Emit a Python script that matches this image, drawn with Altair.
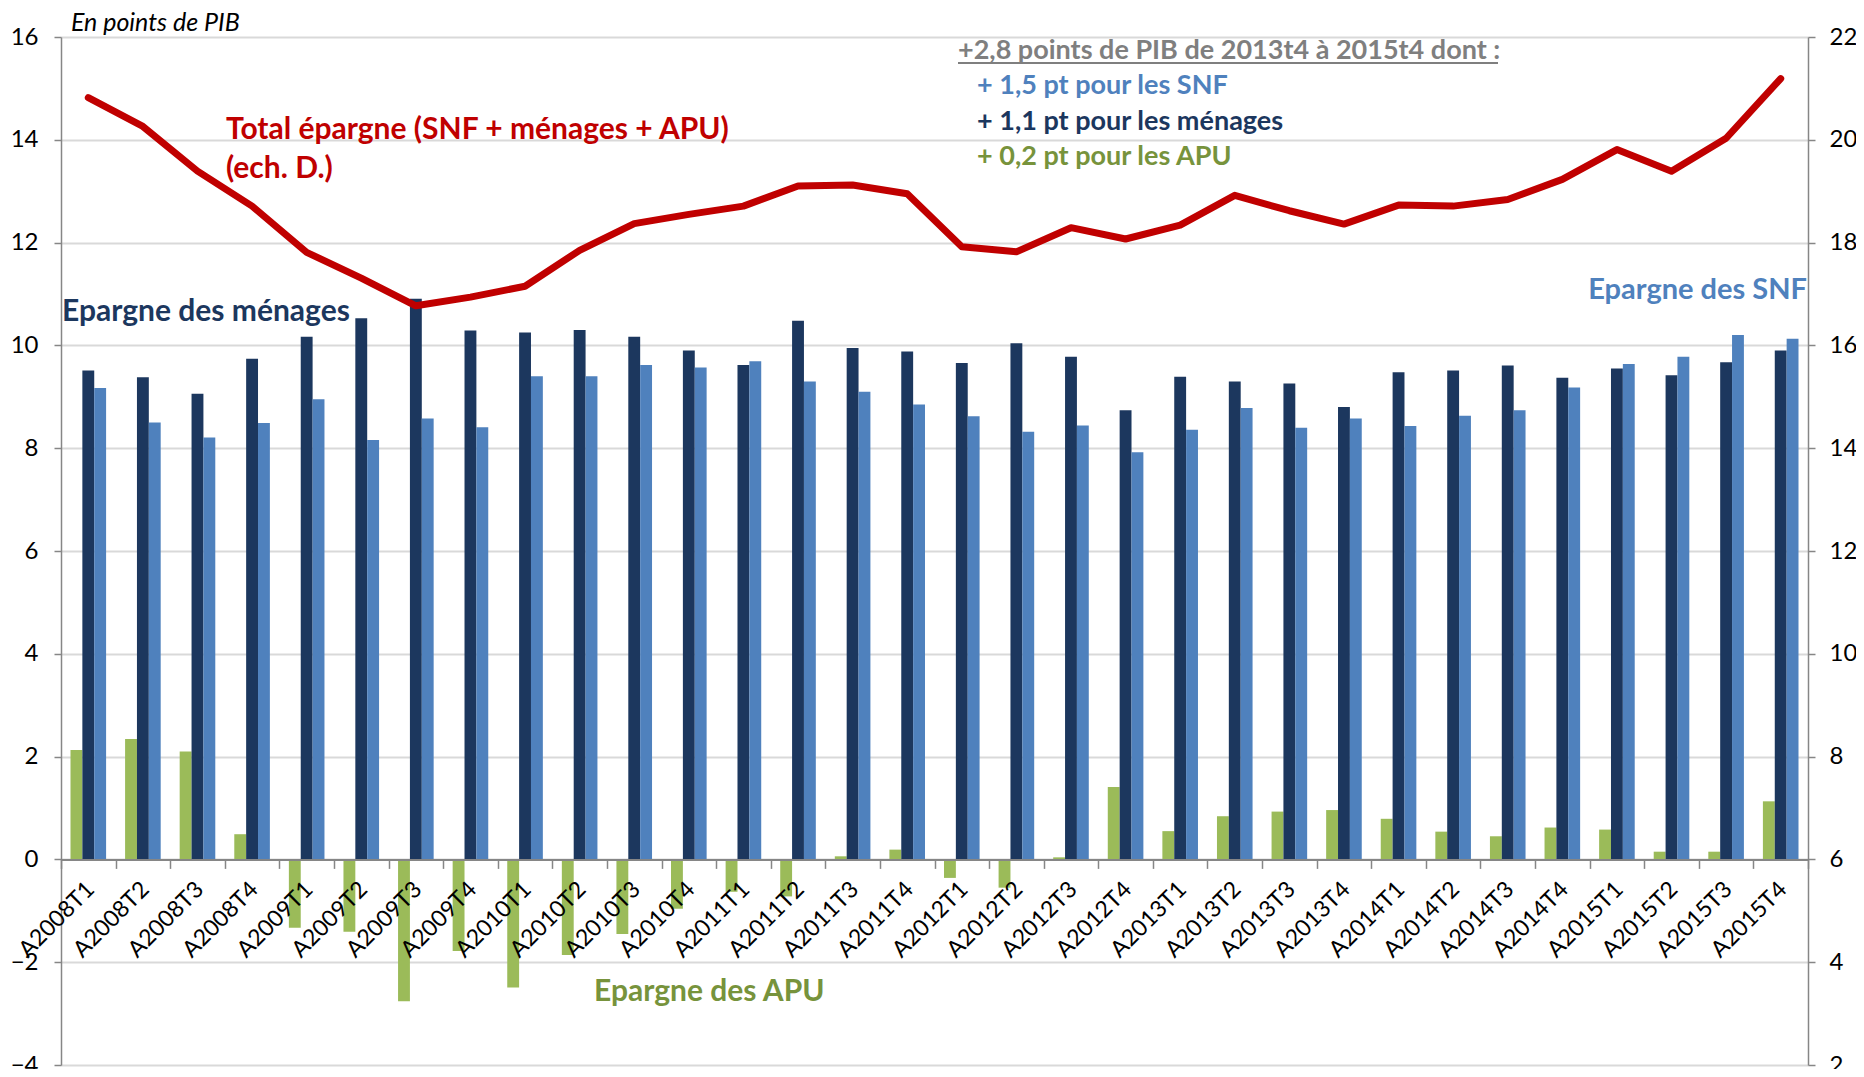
import altair as alt
import pandas as pd

trimestres = ["A2008T1", "A2008T2", "A2008T3", "A2008T4",
              "A2009T1", "A2009T2", "A2009T3", "A2009T4",
              "A2010T1", "A2010T2", "A2010T3", "A2010T4",
              "A2011T1", "A2011T2", "A2011T3", "A2011T4",
              "A2012T1", "A2012T2", "A2012T3", "A2012T4",
              "A2013T1", "A2013T2", "A2013T3", "A2013T4",
              "A2014T1", "A2014T2", "A2014T3", "A2014T4",
              "A2015T1", "A2015T2", "A2015T3", "A2015T4"]

epargne_apu = [2.13, 2.34, 2.10, 0.49, -1.33, -1.41, -2.76, -1.78,
               -2.49, -1.86, -1.45, -0.96, -0.63, -0.72, 0.06, 0.19,
               -0.36, -0.55, 0.04, 1.41, 0.55, 0.84, 0.93, 0.96,
               0.79, 0.54, 0.45, 0.62, 0.58, 0.15, 0.15, 1.13]

epargne_menages = [9.51, 9.38, 9.06, 9.74, 10.17, 10.53, 10.91, 10.29,
                   10.25, 10.30, 10.17, 9.90, 9.62, 10.48, 9.95, 9.88,
                   9.66, 10.04, 9.78, 8.74, 9.39, 9.30, 9.26, 8.80,
                   9.48, 9.51, 9.61, 9.37, 9.55, 9.42, 9.67, 9.90]

epargne_snf = [9.17, 8.50, 8.21, 8.49, 8.95, 8.16, 8.58, 8.41,
               9.40, 9.40, 9.62, 9.57, 9.69, 9.30, 9.10, 8.85,
               8.62, 8.32, 8.44, 7.92, 8.36, 8.78, 8.40, 8.58,
               8.43, 8.63, 8.74, 9.18, 9.64, 9.78, 10.20, 10.13]

total_epargne = [20.82, 20.26, 19.39, 18.71, 17.81, 17.31, 16.77, 16.94,
                 17.15, 17.85, 18.37, 18.55, 18.71, 19.10, 19.12, 18.95,
                 17.92, 17.82, 18.29, 18.07, 18.34, 18.92, 18.62, 18.36,
                 18.73, 18.71, 18.84, 19.23, 19.81, 19.39, 20.03, 21.19]

series = ["APU", "Ménages", "SNF"]
series_colors = ["#9BBB59", "#1C375E", "#4F81BD"]

left_ticks = [-4, -2, 0, 2, 4, 6, 8, 10, 12, 14, 16]
right_ticks = [2, 4, 6, 8, 10, 12, 14, 16, 18, 20, 22]

FONT = "Lato"
PLOT_W = 1747
PLOT_H = 1028

rows = []
for i, t in enumerate(trimestres):
    rows.append({"trimestre": t, "serie": "APU", "valeur": epargne_apu[i]})
    rows.append({"trimestre": t, "serie": "Ménages", "valeur": epargne_menages[i]})
    rows.append({"trimestre": t, "serie": "SNF", "valeur": epargne_snf[i]})
df_bars = pd.DataFrame(rows)
df_total = pd.DataFrame({"trimestre": trimestres, "total": total_epargne})

x_enc = alt.X(
    "trimestre:N", sort=trimestres,
    scale=alt.Scale(paddingInner=0, paddingOuter=0),
    axis=alt.Axis(
        title=None, orient="bottom", offset=-(PLOT_H * 4 / 20),
        tickBand="extent", ticks=True, tickSize=9, tickColor="#868686", tickWidth=1.5,
        domainColor="#868686", domainWidth=2,
        labelAngle=315, labelAlign="right", labelBaseline="middle",
        labelFontSize=23, labelFont=FONT, labelColor="#000000",
        labelPadding=17, labelOffset=2, labelOverlap=False, grid=False, zindex=1,
    ),
)

bars = alt.Chart(df_bars).mark_bar().encode(
    x=x_enc,
    xOffset=alt.XOffset("serie:N", sort=series,
                        scale=alt.Scale(paddingInner=0, paddingOuter=0.8)),
    y=alt.Y("valeur:Q",
            scale=alt.Scale(domain=[-4, 16], nice=False, zero=False),
            axis=alt.Axis(title=None, orient="left", values=left_ticks,
                          grid=True, gridColor="#D9D9D9", gridWidth=2,
                          domainColor="#868686", domainWidth=1.5,
                          tickColor="#868686", tickSize=7, tickWidth=1.5,
                          labelFontSize=24, labelFont=FONT, labelColor="#000000",
                          labelPadding=16)),
    color=alt.Color("serie:N", scale=alt.Scale(domain=series, range=series_colors),
                    legend=None),
)

line = alt.Chart(df_total).mark_line(
    color="#C00000", strokeWidth=7, strokeCap="round", strokeJoin="round"
).encode(
    x=x_enc,
    y=alt.Y("total:Q",
            scale=alt.Scale(domain=[2, 22], nice=False, zero=False),
            axis=alt.Axis(title=None, orient="right", values=right_ticks,
                          grid=False, domainColor="#868686", domainWidth=1.5,
                          tickColor="#868686", tickSize=7, tickWidth=1.5,
                          labelFontSize=24, labelFont=FONT, labelColor="#000000",
                          labelPadding=14)),
)


def label(text, x, y, color, size=30, weight="bold", align="left", italic=False):
    return alt.Chart(pd.DataFrame({"t": [text]})).mark_text(
        align=align, baseline="middle", font=FONT, fontSize=size,
        fontWeight=weight, fontStyle="italic" if italic else "normal", color=color,
    ).encode(text="t:N", x=alt.value(x), y=alt.value(y))


texts = [
    label("En points de PIB", 10, -14, "#000000", size=25, weight="normal", italic=True),
    label("Total épargne (SNF + ménages + APU)", 165, 93, "#C00000", size=30),
    label("(ech. D.)", 165, 132, "#C00000", size=30),
    label("Epargne des ménages", 1, 275, "#1C375E", size=30),
    label("+2,8 points de PIB de 2013t4 à 2015t4 dont :", 897, 14, "#7F7F7F", size=27),
    label("+ 1,5 pt pour les SNF", 916, 49, "#4F81BD", size=27),
    label("+ 1,1 pt pour les ménages", 916, 85, "#1C375E", size=27),
    label("+ 0,2 pt pour les APU", 916, 120, "#77933C", size=27),
    label("Epargne des SNF", 1746, 253, "#4F81BD", align="right", size=29),
    label("Epargne des APU", 533, 955, "#77933C", size=30),
]

underline = alt.Chart(pd.DataFrame({"u": [0]})).mark_rule(
    color="#7F7F7F", strokeWidth=2
).encode(x=alt.value(897), x2=alt.value(1437), y=alt.value(26))

chart = alt.layer(bars, line, *texts, underline).resolve_scale(
    y="independent"
).properties(
    width=PLOT_W, height=PLOT_H,
    autosize=alt.AutoSizeParams(type="none"),
    padding={"left": 53, "top": 29, "right": 48, "bottom": 4},
).configure_view(stroke=None)

chart.save("out.html", embed_options={"renderer": "svg", "actions": False})
